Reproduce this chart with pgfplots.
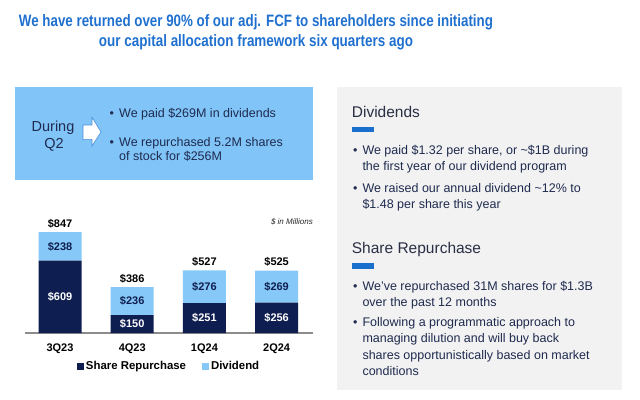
\documentclass[border=0pt]{standalone}
\usepackage{pgfplots}
\pgfplotsset{compat=1.18}
\usepackage{fontspec}
\setmainfont{Liberation Sans}
\usepackage{graphicx}
\definecolor{titleblue}{HTML}{1F70CF}
\definecolor{boxblue}{HTML}{80C4F8}
\definecolor{lightbar}{HTML}{86C8F7}
\definecolor{navy}{HTML}{0F1E50}
\definecolor{panelgray}{HTML}{F2F2F2}
\definecolor{ptext}{HTML}{1F2B4F}
\definecolor{headtext}{HTML}{2A2F45}
\definecolor{dashblue}{HTML}{1A6FCC}
\definecolor{axisgray}{HTML}{8C8C8C}
\definecolor{arrowline}{HTML}{4A90D9}
\newcommand\fs[1]{\fontsize{#1bp}{#1bp}\selectfont}
\begin{document}
\begin{tikzpicture}[x=1bp,y=1bp]
\path[use as bounding box] (0,0) rectangle (640,399);
% title
\node[anchor=base,inner sep=0,text=titleblue] at (256,373) {\resizebox{474bp}{\height}{\fs{16.5}\bfseries We have returned over 90\% of our adj. FCF to shareholders since initiating}};
\node[anchor=base,inner sep=0,text=titleblue] at (256,353) {\resizebox{314bp}{\height}{\fs{16.5}\bfseries our capital allocation framework six quarters ago}};
% blue box
\fill[boxblue] (15,219) rectangle (313,312);
\node[anchor=base,inner sep=0,text=ptext] at (53,268) {\fs{14.5}During};
\node[anchor=base,inner sep=0,text=ptext] at (54,251) {\fs{14.5}Q2};
\draw[fill=white,draw=arrowline,line width=0.6bp] (83,274) -- (92,274) -- (92,281.7) -- (101,267) -- (92,253) -- (92,259.7) -- (83,259.7) -- cycle;
\begin{scope}[every node/.style={anchor=base west,inner sep=0,text=ptext,font=\fs{12.5}}]
\node at (109.5,282) {•};
\node at (119,282) {We paid \$269M in dividends};
\node at (109.5,253) {•};
\node at (119,253) {We repurchased 5.2M shares};
\node at (119,239) {of stock for \$256M};
\end{scope}
% right panel
\fill[panelgray] (337,9) rectangle (622,312);
\node[anchor=base west,inner sep=0,text=headtext] at (351.7,281.7) {\fs{15.5}Dividends};
\fill[dashblue] (351.5,267) rectangle (374,272.3);
\node[anchor=base west,inner sep=0,text=headtext] at (351.7,145.7) {\fs{15.5}Share Repurchase};
\fill[dashblue] (351.5,130.5) rectangle (374,136);
\begin{scope}[every node/.style={anchor=base west,inner sep=0,text=ptext,font=\fs{12.5}}]
\node at (353,245) {•};
\node at (362.3,245) {We paid \$1.32 per share, or \textasciitilde\$1B during};
\node at (362.3,228.3) {the first year of our dividend program};
\node at (353,206.7) {•};
\node at (362.3,206.7) {We raised our annual dividend \textasciitilde12\% to};
\node at (362.3,190.7) {\$1.48 per share this year};
\node at (353,108.3) {•};
\node at (362.3,108.3) {We’ve repurchased 31M shares for \$1.3B};
\node at (362.3,92.3) {over the past 12 months};
\node at (353,73) {•};
\node at (362.3,73) {Following a programmatic approach to};
\node at (362.3,56.3) {managing dilution and will buy back};
\node at (362.3,39.7) {shares opportunistically based on market};
\node at (362.3,23.3) {conditions};
\end{scope}
\node[anchor=base east,inner sep=0,text=black!85] at (313,175) {\fs{8}\itshape \$ in Millions};
% chart
\begin{axis}[at={(25bp,66bp)}, anchor=south west,
  x=72.2bp, y=0.119bp, xmin=-0.485, xmax=3.506, ymin=0, ymax=900,
  ybar stacked, bar width=43bp,
  axis y line=none, axis x line*=bottom,
  x axis line style={draw=axisgray, line width=1.5bp, -},
  xtick={0,1,2,3}, xticklabels={3Q23,4Q23,1Q24,2Q24},
  major tick length=0pt, xtick style={draw=none},
  xticklabel style={font=\fs{11}\bfseries, text=black, yshift=-7bp},
  legend style={draw=none, fill=none, at={(0.5,-0.313)}, anchor=center,
    legend columns=2, font=\fs{11.4}\bfseries, text=black,
    /tikz/every even column/.append style={column sep=14bp}},
  clip=false]
\addplot[fill=navy, draw=none, legend image code/.code={\fill[navy] (0bp,-3.5bp) rectangle (7bp,3.5bp);}] coordinates {(0,609) (1,150) (2,251) (3,256)};
\addlegendentry{Share Repurchase}
\addplot[fill=lightbar, draw=none, legend image code/.code={\fill[lightbar] (0bp,-3.5bp) rectangle (7bp,3.5bp);}] coordinates {(0,238) (1,236) (2,276) (3,269)};
\addlegendentry{Dividend}
\end{axis}
\begin{axis}[at={(25bp,66bp)}, anchor=south west,
  x=72.2bp, y=0.119bp, xmin=-0.485, xmax=3.506, ymin=0, ymax=900,
  hide axis, clip=false,
  nodes near coords, point meta=explicit symbolic,
  every node near coord/.append style={font=\fs{11}\bfseries}]
\addplot[only marks, mark=*, mark size=0pt, mark options={draw=none,fill=none},
  every node near coord/.append style={text=white, anchor=center}]
  coordinates {(0,304.5)[\$609] (1,75)[\$150] (2,125.5)[\$251] (3,128)[\$256]};
\addplot[only marks, mark=*, mark size=0pt, mark options={draw=none,fill=none},
  every node near coord/.append style={text=navy, anchor=center}]
  coordinates {(0,728)[\$238] (1,268)[\$236] (2,389)[\$276] (3,390.5)[\$269]};
\addplot[only marks, mark=*, mark size=0pt, mark options={draw=none,fill=none},
  every node near coord/.append style={text=black, anchor=base, yshift=5bp, inner sep=0pt}]
  coordinates {(0,847)[\$847] (1,386)[\$386] (2,527)[\$527] (3,525)[\$525]};
\end{axis}
\end{tikzpicture}
\end{document}
